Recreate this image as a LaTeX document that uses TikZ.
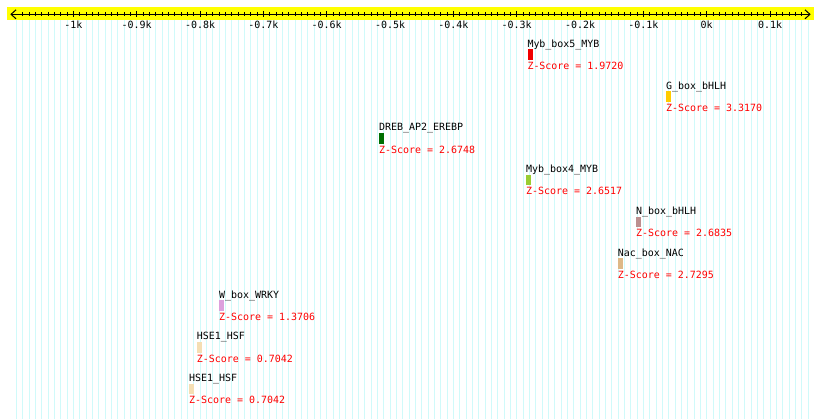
\documentclass[tikz,border=0pt]{standalone}
\usepackage{fontspec}
\setmonofont{DejaVu Sans Mono}
\usetikzlibrary{arrows.meta}
\definecolor{gridc}{RGB}{208,250,250}
\definecolor{bandc}{RGB}{255,255,0}
\definecolor{cMybA}{RGB}{240,0,0}
\definecolor{cG}{RGB}{255,204,0}
\definecolor{cDREB}{RGB}{0,110,0}
\definecolor{cMybB}{RGB}{154,205,50}
\definecolor{cN}{RGB}{188,143,143}
\definecolor{cNac}{RGB}{222,184,135}
\definecolor{cW}{RGB}{221,160,221}
\definecolor{cHSE}{RGB}{245,222,179}
\begin{document}
\begin{tikzpicture}[x=1pt,y=-1pt,
  txt/.style={font=\ttfamily\fontsize{9.96}{12}\selectfont, inner sep=0pt},
  nametxt/.style={txt, text=black, anchor=base west},
  ztxt/.style={txt, text=red, anchor=base west},
  ticklab/.style={txt, text=black, anchor=base},
  motif/.style={draw=none, minimum width=5pt, minimum height=10.5pt, inner sep=0pt, anchor=north west},
  gridline/.style={draw=gridc, line width=1pt},
  tickline/.style={draw=black, line width=1pt},
  barb/.tip={Straight Barb[length=5pt,width=9pt,line width=1pt]}
]
\fill[white] (0,0) rectangle (820,419);
\useasboundingbox (0,0) rectangle (820,419);
\foreach \k in {-109,...,16}
  \draw[gridline] ({706.7+6.333*\k},20) -- ({706.7+6.333*\k},419);
\fill[bandc] (7,7) rectangle (814,20.3);
\coordinate (axL) at (10.3,14.3);
\coordinate (axR) at (810.7,14.3);
\draw[tickline, barb-barb] (axL) -- (axR);
\foreach \k in {-108,...,15}
  \draw[tickline] ({706.7+6.333*\k},12.3) -- ++(0,4);
\foreach \k/\lab in {-10/-1k,-9/-0.9k,-8/-0.8k,-7/-0.7k,-6/-0.6k,-5/-0.5k,-4/-0.4k,-3/-0.3k,-2/-0.2k,-1/-0.1k,0/0k,1/0.1k}{
  \draw[tickline] ({706.7+63.33*\k},11) -- ++(0,6.5);
  \node[ticklab] (lab\k) at ({706.7+63.33*\k},28.5) {\lab};
}
\foreach \i/\nm/\x/\y/\c/\z in {
 1/Myb\_box5\_MYB/527.3/47.3/cMybA/1.9720,
 2/G\_box\_bHLH/666/89.1/cG/3.3170,
 3/DREB\_AP2\_EREBP/379/130.9/cDREB/2.6748,
 4/Myb\_box4\_MYB/526/172.7/cMybB/2.6517,
 5/N\_box\_bHLH/636/214.5/cN/2.6835,
 6/Nac\_box\_NAC/617.7/256.3/cNac/2.7295,
 7/W\_box\_WRKY/219/298.1/cW/1.3706,
 8/HSE1\_HSF/196.7/339.9/cHSE/0.7042,
 9/HSE1\_HSF/189/381.7/cHSE/0.7042}{
  \node[nametxt] (name\i) at (\x,\y) {\nm};
  \node[motif, fill=\c] (box\i) at (\x,\y+2) {};
  \node[ztxt] (z\i) at (\x,\y+22.3) {Z-Score = \z};
}
\end{tikzpicture}
\end{document}
